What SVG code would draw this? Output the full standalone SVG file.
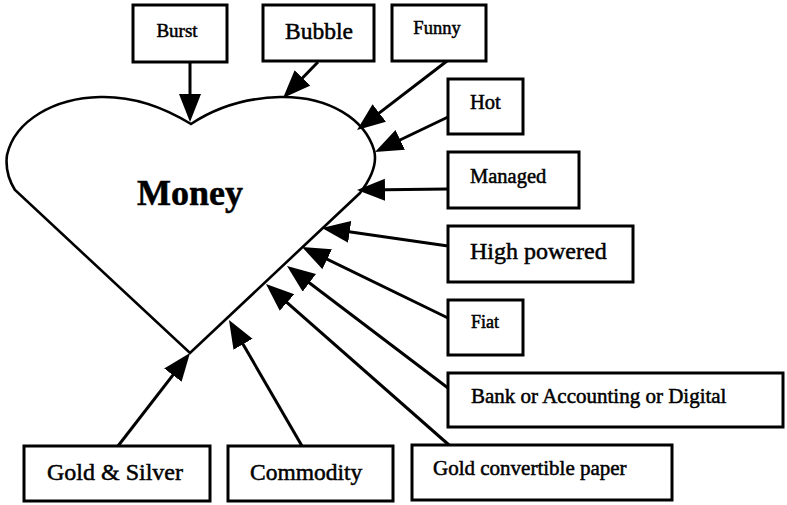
<svg xmlns="http://www.w3.org/2000/svg" width="787" height="505" viewBox="0 0 787 505">
<style>
.box{fill:#fff;stroke:#000;stroke-width:3}
.t{font-family:"Liberation Serif","Times New Roman",serif;fill:#000;stroke:#000;stroke-width:0.5}
.c{stroke:#000;stroke-width:3;fill:none;marker-end:url(#ah)}
</style>
<defs>
<marker id="ah" markerUnits="userSpaceOnUse" markerWidth="30" markerHeight="24" refX="20" refY="11" orient="auto">
<path d="M0,0 L28,11 L0,22 Z" fill="#000"/>
</marker>
</defs>
<rect width="787" height="505" fill="#fff"/>
<g id="money">
<path d="M191,124 C165,108 135,96 100,97 C55,98 15,120 7,155 C5,170 10,182 15,190 L190,353 L360,193 C370,180 378,165 374,150 C365,120 330,96 280,97 C245,98 215,108 191,124 Z" fill="#fff" stroke="#000" stroke-width="2.6" stroke-linejoin="miter"/>
<text class="t" x="190" y="205" font-size="36" font-weight="bold" text-anchor="middle">Money</text>
</g>
<g id="burst"><rect class="box" x="133" y="5" width="94" height="57"/><text class="t" x="177" y="37" font-size="19" text-anchor="middle">Burst</text></g>
<g id="bubble"><rect class="box" x="263" y="5" width="111" height="56"/><text class="t" x="319" y="39" font-size="23.5" text-anchor="middle">Bubble</text></g>
<g id="funny"><rect class="box" x="392" y="5" width="94" height="56"/><text class="t" x="437" y="34" font-size="18.5" text-anchor="middle">Funny</text></g>
<g id="hot"><rect class="box" x="448" y="79" width="75" height="55"/><text class="t" x="470" y="109" font-size="20.5">Hot</text></g>
<g id="managed"><rect class="box" x="448" y="152" width="131" height="56"/><text class="t" x="470" y="183" font-size="20.5">Managed</text></g>
<g id="highpowered"><rect class="box" x="448" y="226" width="185" height="56"/><text class="t" x="470" y="259" font-size="24">High powered</text></g>
<g id="fiat"><rect class="box" x="448" y="300" width="75" height="55"/><text class="t" x="471" y="328" font-size="18">Fiat</text></g>
<g id="bank"><rect class="box" x="448" y="373" width="335" height="54"/><text class="t" x="471" y="403" font-size="21">Bank or Accounting or Digital</text></g>
<g id="goldpaper"><rect class="box" x="412" y="445" width="260" height="55"/><text class="t" x="433" y="475" font-size="21">Gold convertible paper</text></g>
<g id="commodity"><rect class="box" x="228" y="446" width="165" height="55"/><text class="t" x="250" y="480" font-size="23.5">Commodity</text></g>
<g id="goldsilver"><rect class="box" x="24" y="446" width="186" height="55"/><text class="t" x="47" y="480" font-size="24">Gold &amp; Silver</text></g>
<g id="connectors">
<line class="c" x1="190" y1="62" x2="190" y2="114"/>
<line class="c" x1="318" y1="62" x2="288.6" y2="92.3"/>
<line class="c" x1="447" y1="61" x2="363.4" y2="125.1"/>
<line class="c" x1="448" y1="117" x2="382.2" y2="148.5"/>
<line class="c" x1="448" y1="189" x2="365" y2="189.9"/>
<line class="c" x1="448" y1="246" x2="329.9" y2="229.1"/>
<line class="c" x1="448" y1="318" x2="309.2" y2="250.5"/>
<line class="c" x1="448" y1="388" x2="293.4" y2="270.8"/>
<line class="c" x1="449" y1="445" x2="272" y2="289.3"/>
<line class="c" x1="302" y1="446" x2="233" y2="326.9"/>
<line class="c" x1="118" y1="446" x2="185.1" y2="359.3"/>
</g>
</svg>
